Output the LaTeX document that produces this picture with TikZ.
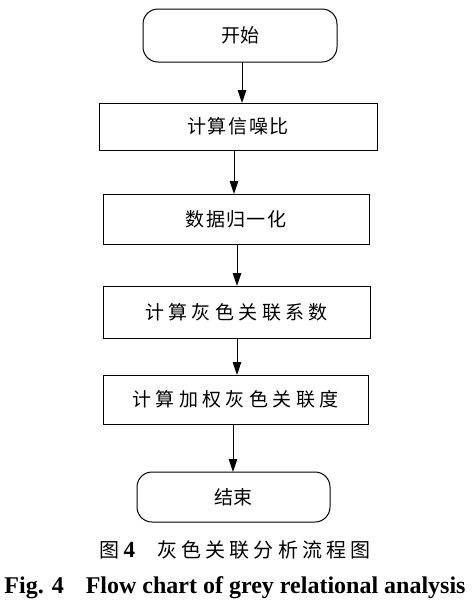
\documentclass[tikz,border=0pt]{standalone}
\usepackage{fontspec}
\setmainfont{Liberation Serif}
\newfontfamily\cjk{Noto Sans CJK SC}
\newfontfamily\cjkcap{Noto Sans CJK SC}[LetterSpace=21]
\usetikzlibrary{arrows.meta}
\begin{document}
\begin{tikzpicture}[x=1pt,y=-1pt,
  box/.style={draw,line width=1pt,inner sep=0pt,outer sep=0pt,font=\fontsize{19}{19}\cjk},
  term/.style={box,rounded corners=15pt},
  arr/.style={line width=1pt,-{Triangle[length=13pt,width=8.5pt]}}]
\useasboundingbox (0,0) rectangle (473,606);
\node[term,minimum width=194pt,minimum height=53pt] (s) at (240,35.5) {开始};
\node[box,minimum width=278pt,minimum height=47pt] (b1) at (238,126.5) {\addfontfeature{LetterSpace=9}计算信噪比};
\node[box,minimum width=266pt,minimum height=50pt] (b2) at (236,219) {\addfontfeature{LetterSpace=7}数据归一化};
\node[box,minimum width=267pt,minimum height=52pt] (b3) at (236.5,312) {\addfontfeature{LetterSpace=23}计算灰色关联系数};
\node[box,minimum width=265pt,minimum height=49pt] (b4) at (235.5,399.5) {\addfontfeature{LetterSpace=23}计算加权灰色关联度};
\node[term,minimum width=193pt,minimum height=50pt] (e) at (233.5,497) {结束};
\coordinate (x1) at (242,0);
\coordinate (x2) at (234,0);
\coordinate (x3) at (237,0);
\coordinate (x4) at (237,0);
\coordinate (x5) at (233,0);
\draw[arr] (s.south -| x1) -- (b1.north -| x1);
\draw[arr] (b1.south -| x2) -- (b2.north -| x2);
\draw[arr] (b2.south -| x3) -- (b3.north -| x3);
\draw[arr] (b3.south -| x4) -- (b4.north -| x4);
\draw[arr] (b4.south -| x5) -- (e.north -| x5);
\node[font=\fontsize{20}{20}\selectfont] (c1) at (235,550) {{\cjkcap 图}{\fontsize{23}{23}\selectfont\textbf{4}}\hspace{22pt}{\cjkcap 灰色关联分析流程图}};
\node[font=\fontsize{24}{24}\selectfont\bfseries] (c2) at (235,588) {Fig. 4\hspace{22pt}Flow chart of grey relational analysis};
\end{tikzpicture}
\end{document}
